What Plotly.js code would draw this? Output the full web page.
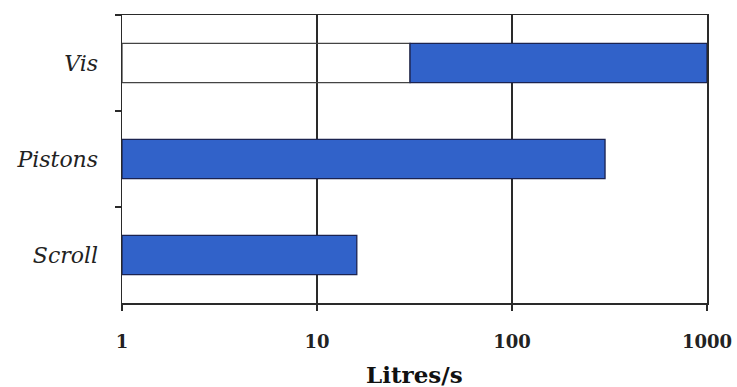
<!DOCTYPE html>
<html>
<head>
<meta charset="utf-8">
<script src="https://cdn.plot.ly/plotly-3.0.1.min.js"></script>
<style>html,body{margin:0;padding:0;background:#fff;}#chart{width:737px;height:387px;}</style>
</head>
<body>
<div id="chart"></div>
<script>
// Data
const categories = ['Vis', 'Pistons', 'Scroll'];
const rangeLow = [30, 1, 1];
const rangeHigh = [1000, 300, 16];
const openCategories = ['Vis'];
const openLow = [1];
const openHigh = [30];
const tickVals = [1, 10, 100, 1000];
const tickText = ['1', '10', '100', '1000'];
const xTitle = 'Litres/s';

const traces = [
  {
    type: 'bar', orientation: 'h',
    y: openCategories,
    base: openLow,
    x: openHigh.map((h, i) => h - openLow[i]),
    width: 0.41,
    marker: {color: 'rgba(0,0,0,0)', line: {color: '#444', width: 1.3}},
    hoverinfo: 'skip', showlegend: false
  },
  {
    type: 'bar', orientation: 'h',
    y: categories,
    base: rangeLow,
    x: rangeHigh.map((h, i) => h - rangeLow[i]),
    width: 0.41,
    marker: {color: '#3162c9', line: {color: '#1b2350', width: 1.3}},
    showlegend: false
  }
];

const layout = {
  width: 737, height: 387,
  margin: {l: 122, r: 30, t: 15, b: 84},
  paper_bgcolor: '#fff', plot_bgcolor: '#fff',
  barmode: 'overlay',
  showlegend: false,
  xaxis: {
    type: 'log', range: [0, 3],
    tickvals: tickVals, ticktext: tickText,
    showgrid: true, gridcolor: '#2a2a2a', gridwidth: 1.5,
    showline: true, linecolor: '#2a2a2a', linewidth: 1.5, mirror: true,
    ticks: 'outside', ticklen: 6, tickcolor: '#2a2a2a', tickwidth: 1.5,
    ticklabelstandoff: 16,
    tickfont: {family: 'DejaVu Serif', size: 18, color: '#222', weight: 'bold'},
    zeroline: false, automargin: false
  },
  yaxis: {
    type: 'category',
    categoryorder: 'array', categoryarray: categories,
    range: [2.5, -0.5],
    showgrid: false,
    showline: true, linecolor: '#2a2a2a', linewidth: 1.5, mirror: true,
    ticks: 'outside', ticklen: 6, tickcolor: '#2a2a2a', tickwidth: 1.5, tickson: 'boundaries',
    ticklabelstandoff: 18,
    tickfont: {family: 'DejaVu Serif', size: 22, color: '#222', style: 'italic'},
    automargin: false
  },
  annotations: [{
    text: '<b>' + xTitle + '</b>',
    xref: 'paper', yref: 'paper', x: 0.5, y: -0.248,
    xanchor: 'center', yanchor: 'middle', showarrow: false, borderpad: 0,
    font: {family: 'DejaVu Serif', size: 23, color: '#111'}
  }]
};

Plotly.newPlot('chart', traces, layout, {displayModeBar: false, staticPlot: true});
</script>
</body>
</html>
